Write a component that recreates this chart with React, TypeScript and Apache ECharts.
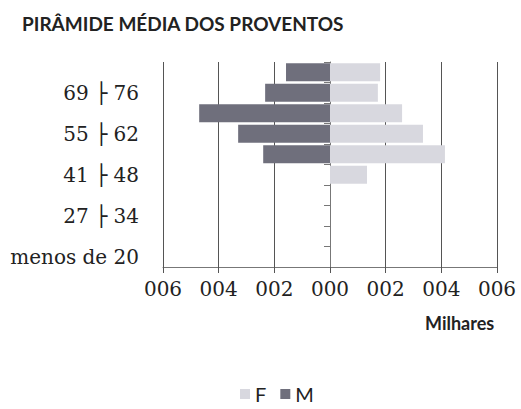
import React, { useEffect, useRef } from "react";
import * as echarts from "echarts";

const categories = [
  "menos de 20",
  "20 ├ 27",
  "27 ├ 34",
  "34 ├ 41",
  "41 ├ 48",
  "48 ├ 55",
  "55 ├ 62",
  "62 ├ 69",
  "69 ├ 76",
  "76 ├ 83",
];
const femaleValues = [0, 0, 0, 0, 1330, 4130, 3340, 2590, 1720, 1800];
const maleValues = [0, 0, 0, 0, 0, -2400, -3300, -4700, -2330, -1580];
const xTickValues = [-6000, -4000, -2000, 0, 2000, 4000, 6000];
const xTickLabels = ["006", "004", "002", "000", "002", "004", "006"];

const serif = "'DejaVu Serif', serif";
const sans = "Lato, 'Open Sans', sans-serif";

export default function App() {
  const ref = useRef<HTMLDivElement>(null);
  useEffect(() => {
    const chart = echarts.init(ref.current!, null, { renderer: "svg" });
    chart.setOption({
      animation: false,
      backgroundColor: "#ffffff",
      title: {
        text: "PIRÂMIDE MÉDIA DOS PROVENTOS",
        left: 17,
        top: 9,
        textStyle: { fontFamily: sans, fontWeight: "bold", fontSize: 19, color: "#222" },
      },
      legend: {
        data: ["F", "M"],
        bottom: 0,
        left: 235,
        itemWidth: 10,
        itemHeight: 10,
        itemGap: 14,
        icon: "rect",
        textStyle: { fontFamily: sans, fontSize: 20, color: "#222" },
      },
      grid: { left: 163, right: 24, top: 62, bottom: 142 },
      xAxis: {
        type: "value",
        min: -6000,
        max: 6000,
        interval: 2000,
        axisLine: { show: true, lineStyle: { color: "#777", width: 1 } },
        axisTick: { show: true, length: 6, lineStyle: { color: "#555" } },
        splitLine: { show: true, lineStyle: { color: "#555", width: 1 } },
        axisLabel: {
          fontFamily: serif,
          fontSize: 20,
          color: "#222",
          margin: 12,
          formatter: (v: number) => {
            const i = xTickValues.indexOf(v);
            return i >= 0 ? xTickLabels[i] : "";
          },
        },
      },
      yAxis: [
        {
          type: "category",
          data: categories,
          position: "left",
          axisLine: { show: false, onZero: false },
          axisTick: { show: false },
          axisLabel: {
            interval: 1,
            fontFamily: serif,
            fontSize: 20,
            color: "#222",
            margin: 24,
          },
        },
        {
          type: "category",
          data: categories,
          position: "left",
          axisLine: { show: true, onZero: true, lineStyle: { color: "#777" } },
          axisTick: { show: true, length: 6, lineStyle: { color: "#777" } },
          axisLabel: { show: false },
        },
      ],
      series: [
        {
          name: "F",
          type: "bar",
          data: femaleValues,
          barGap: "-100%",
          barCategoryGap: "12%",
          itemStyle: { color: "#d8d8df" },
        },
        {
          name: "M",
          type: "bar",
          data: maleValues,
          barGap: "-100%",
          barCategoryGap: "12%",
          itemStyle: { color: "#6f6f7c" },
        },
      ],
      graphic: [
        {
          type: "text",
          left: 425,
          top: 314,
          style: {
            text: "Milhares",
            fontFamily: sans,
            fontWeight: "bold",
            fontSize: 18,
            fill: "#222",
          },
        },
      ],
    });
    return () => chart.dispose();
  }, []);
  return <div ref={ref} style={{ width: 521, height: 409, position: "absolute", left: 0, top: 0 }} />;
}
